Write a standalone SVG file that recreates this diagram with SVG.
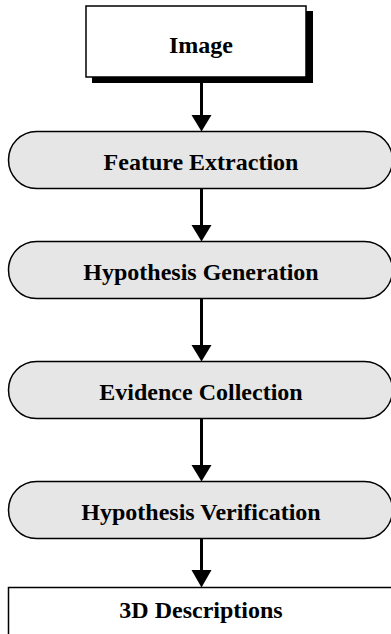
<svg xmlns="http://www.w3.org/2000/svg" width="391" height="634" viewBox="0 0 391 634">
<style>
.box{fill:#ffffff;stroke:#000000;stroke-width:1.5}
.shadow{fill:#000000}
.pill{fill:#e6e6e6;stroke:#000000;stroke-width:1.5}
.lbl{font-family:"Liberation Serif","Times New Roman",serif;font-weight:bold;font-size:24px;fill:#000000;text-anchor:middle}
.conn{stroke:#000000;stroke-width:3;fill:none}
.head{fill:#000000}
</style>
<rect x="0" y="0" width="391" height="634" fill="#ffffff"/>
<g id="node-image">
<rect class="shadow" x="92" y="11" width="221" height="72"/>
<rect class="box" x="86" y="6" width="220" height="71"/>
<text class="lbl" x="201" y="53">Image</text>
</g>
<g id="node-feature">
<rect class="pill" x="8.5" y="131.5" width="384" height="57" rx="28" ry="28.5"/>
<text class="lbl" x="201" y="170">Feature Extraction</text>
</g>
<g id="node-hypgen">
<rect class="pill" x="8.5" y="241.5" width="384" height="57" rx="28" ry="28.5"/>
<text class="lbl" x="201" y="280">Hypothesis Generation</text>
</g>
<g id="node-evidence">
<rect class="pill" x="8.5" y="361.5" width="384" height="57" rx="28" ry="28.5"/>
<text class="lbl" x="201" y="400">Evidence Collection</text>
</g>
<g id="node-hypver">
<rect class="pill" x="8.5" y="481.5" width="384" height="57" rx="28" ry="28.5"/>
<text class="lbl" x="201" y="520">Hypothesis Verification</text>
</g>
<g id="node-3d">
<rect class="shadow" x="14" y="593" width="400" height="60"/>
<rect class="box" x="8.5" y="587.5" width="400" height="60"/>
<text class="lbl" x="201" y="618">3D Descriptions</text>
</g>
<g id="connectors">
<line class="conn" x1="201.5" y1="83" x2="201.5" y2="116"/>
<polygon class="head" points="191.5,115 211.5,115 201.5,131.5"/>
<line class="conn" x1="201.5" y1="189" x2="201.5" y2="226"/>
<polygon class="head" points="191.5,225 211.5,225 201.5,241.5"/>
<line class="conn" x1="201.5" y1="299" x2="201.5" y2="346"/>
<polygon class="head" points="191.5,345 211.5,345 201.5,361.5"/>
<line class="conn" x1="201.5" y1="419" x2="201.5" y2="466"/>
<polygon class="head" points="191.5,465 211.5,465 201.5,481.5"/>
<line class="conn" x1="201.5" y1="539" x2="201.5" y2="571"/>
<polygon class="head" points="191.5,570 211.5,570 201.5,587.5"/>
</g>
</svg>
